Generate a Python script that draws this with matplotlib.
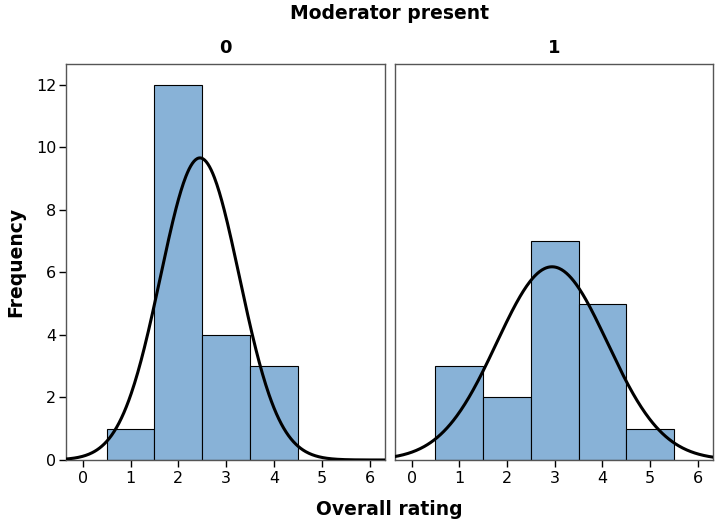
import numpy as np
import matplotlib
matplotlib.use("Agg")
import matplotlib.pyplot as plt

# Data
bins = [1, 2, 3, 4, 5]
counts_0 = [1, 12, 4, 3, 0]
counts_1 = [3, 2, 7, 5, 1]
panel_titles = ["0", "1"]
x_ticks = [0, 1, 2, 3, 4, 5, 6]
y_ticks = [0, 2, 4, 6, 8, 10, 12]

bar_color = "#88b2d7"
frame_color = "#555555"

fig = plt.figure(figsize=(7.15, 5.21), dpi=100)
ax0 = fig.add_axes([0.0923, 0.1171, 0.4462, 0.7601])
ax1 = fig.add_axes([0.5524, 0.1171, 0.4448, 0.7601])

def normal_curve(values, counts):
    v = np.repeat(values, counts)
    n = len(v)
    m = v.mean()
    s = v.std(ddof=1)
    xs = np.linspace(-0.4, 6.4, 400)
    ys = n * 1.0 * np.exp(-0.5 * ((xs - m) / s) ** 2) / (s * np.sqrt(2 * np.pi))
    return xs, ys

for ax, counts, title in [(ax0, counts_0, panel_titles[0]), (ax1, counts_1, panel_titles[1])]:
    ax.bar(bins, counts, width=1.0, color=bar_color, edgecolor="black", linewidth=0.8, zorder=2)
    xs, ys = normal_curve(np.array(bins), np.array(counts))
    ax.plot(xs, ys, color="black", linewidth=2.2, zorder=3)
    ax.set_xlim(-0.35, 6.32)
    ax.set_ylim(0, 12.67)
    ax.set_xticks(x_ticks)
    ax.set_xticklabels([str(t) for t in x_ticks])
    for sp in ax.spines.values():
        sp.set_color(frame_color)
        sp.set_linewidth(1.0)
    ax.tick_params(axis="x", direction="out", length=5, width=1, colors="black", labelsize=11.5, pad=3)
    ax.set_title(title, fontsize=13, fontweight="bold", pad=8)

ax0.set_yticks(y_ticks)
ax0.tick_params(axis="y", direction="out", length=5, width=1, labelsize=11.5, pad=2)
ax1.set_yticks([])

ax0.set_ylabel("Frequency", fontsize=13.5, fontweight="bold", labelpad=8)
fig.text(0.545, 0.022, "Overall rating", ha="center", va="center", fontsize=13.5, fontweight="bold")
fig.text(0.545, 0.975, "Moderator present", ha="center", va="center", fontsize=13.5, fontweight="bold")

fig.savefig("out.png", dpi=100)
